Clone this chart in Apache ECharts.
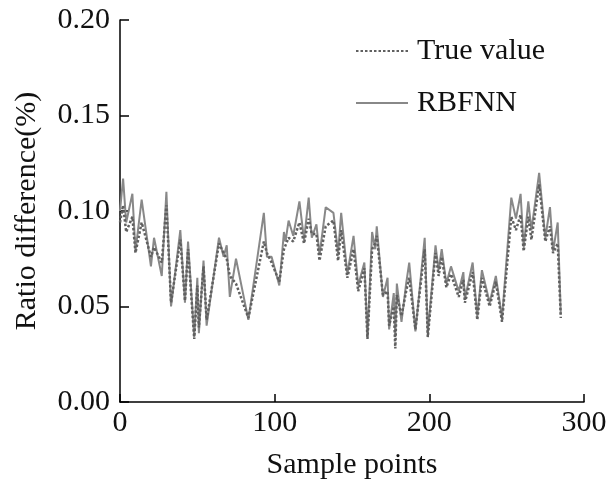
<!DOCTYPE html>
<html>
<head>
<meta charset="utf-8">
<script src="https://cdn.jsdelivr.net/npm/echarts@6/dist/echarts.min.js"></script>
<style>html,body{margin:0;padding:0;background:#fff}#c{width:609px;height:482px}</style>
</head>
<body>
<div id="c"></div>
<script>
const sampleX = [0,2,4,8,10,14,20,22,27,30,33,39,42,44,48,50,51,54,56,64,67,69,71,75,83,93,95,98,103,106,107,109,112,116,119,122,124,127,129,133,138,141,143,147,151,154,158,160,163,165,166,170,173,174,177,178,179,182,185,187,191,197,199,204,206,208,211,214,219,222,223,228,231,234,239,243,247,253,256,259,261,264,266,271,275,278,280,283,285];
const rbfnn = [0.100,0.117,0.094,0.109,0.079,0.106,0.071,0.086,0.066,0.110,0.050,0.090,0.052,0.084,0.034,0.065,0.036,0.074,0.040,0.086,0.076,0.082,0.055,0.075,0.043,0.099,0.076,0.076,0.061,0.089,0.084,0.095,0.087,0.105,0.085,0.107,0.086,0.093,0.077,0.102,0.099,0.078,0.099,0.067,0.087,0.061,0.073,0.034,0.089,0.080,0.092,0.055,0.065,0.038,0.057,0.034,0.062,0.042,0.062,0.073,0.037,0.086,0.036,0.082,0.069,0.080,0.062,0.071,0.058,0.068,0.054,0.073,0.045,0.069,0.052,0.066,0.044,0.107,0.096,0.109,0.081,0.105,0.090,0.120,0.086,0.102,0.079,0.094,0.046];
const trueValue = [0.094,0.103,0.089,0.097,0.078,0.094,0.076,0.081,0.073,0.103,0.052,0.085,0.053,0.080,0.033,0.061,0.039,0.071,0.043,0.083,0.078,0.075,0.066,0.062,0.044,0.084,0.078,0.073,0.063,0.080,0.082,0.086,0.084,0.094,0.083,0.096,0.088,0.088,0.074,0.092,0.095,0.074,0.090,0.065,0.080,0.058,0.070,0.033,0.080,0.083,0.087,0.056,0.058,0.040,0.050,0.028,0.056,0.045,0.058,0.065,0.038,0.080,0.034,0.078,0.066,0.076,0.060,0.067,0.055,0.064,0.052,0.068,0.043,0.065,0.050,0.063,0.042,0.097,0.090,0.098,0.079,0.097,0.085,0.114,0.084,0.092,0.078,0.083,0.044];
const xTicks = [0, 100, 200, 300];
const yTicks = [0.00, 0.05, 0.10, 0.15, 0.20];

const font = 'Liberation Serif';
const chart = echarts.init(document.getElementById('c'), null, {renderer: 'canvas'});
chart.setOption({
  animation: false,
  backgroundColor: '#fff',
  grid: {left: 120, right: 25, top: 20, bottom: 80, containLabel: false, outerBoundsMode: 'none'},
  legend: {
    data: ['True value', 'RBFNN'],
    orient: 'vertical',
    left: 350,
    top: 31,
    itemWidth: 52,
    itemHeight: 14,
    itemGap: 22,
    itemStyle: {opacity: 0},
    textStyle: {fontFamily: font, fontSize: 30, color: '#111', padding: [0, 0, 0, 4]}
  },
  xAxis: {
    type: 'value',
    min: xTicks[0], max: xTicks[xTicks.length - 1], interval: 100,
    name: 'Sample points',
    nameLocation: 'middle',
    nameGap: 48,
    nameTextStyle: {fontFamily: font, fontSize: 30, color: '#111'},
    axisLine: {lineStyle: {color: '#000', width: 1.5}},
    axisTick: {inside: true, length: 8, lineStyle: {color: '#000', width: 1.5}},
    axisLabel: {fontFamily: font, fontSize: 30, color: '#111', margin: 6},
    splitLine: {show: false}
  },
  yAxis: {
    type: 'value',
    min: yTicks[0], max: yTicks[yTicks.length - 1], interval: 0.05,
    name: 'Ratio difference(%)',
    nameLocation: 'middle',
    nameGap: 78,
    nameTextStyle: {fontFamily: font, fontSize: 30, color: '#111'},
    axisLine: {show: true, lineStyle: {color: '#000', width: 1.5}},
    axisTick: {show: true, inside: true, length: 9, lineStyle: {color: '#000', width: 1.5}},
    axisLabel: {fontFamily: font, fontSize: 30, color: '#111', margin: 10, formatter: v => v.toFixed(2)},
    splitLine: {show: false}
  },
  series: [
    {
      name: 'RBFNN', type: 'line', symbol: 'none',
      data: sampleX.map((x, i) => [x, rbfnn[i]]),
      lineStyle: {color: '#888888', width: 2},
      itemStyle: {color: '#888888'}
    },
    {
      name: 'True value', type: 'line', symbol: 'none',
      data: sampleX.map((x, i) => [x, trueValue[i]]),
      lineStyle: {color: '#606060', width: 2.5, type: [2.5, 2]},
      itemStyle: {color: '#606060'}
    }
  ]
});
</script>
</body>
</html>
